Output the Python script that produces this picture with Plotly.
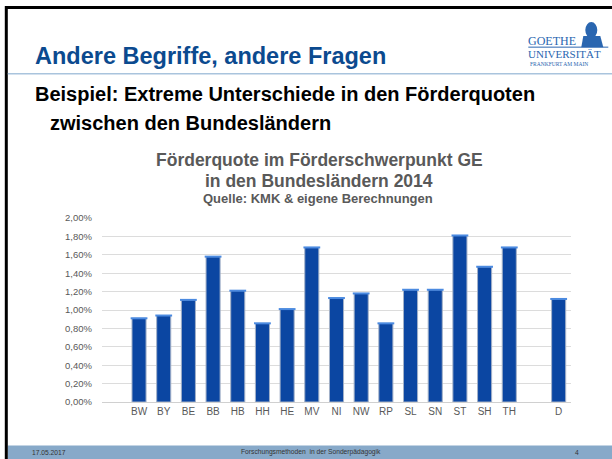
import plotly.graph_objects as go

# ---- data ----
states = ["BW", "BY", "BE", "BB", "HB", "HH", "HE", "MV", "NI", "NW",
          "RP", "SL", "SN", "ST", "SH", "TH", " ", "D"]
quota = [0.0091, 0.0094, 0.0111, 0.0158, 0.0121, 0.00855, 0.0101, 0.0168,
         0.0113, 0.0118, 0.00855, 0.0122, 0.0122, 0.0181, 0.0147, 0.0168,
         None, 0.0112]
y_ticks = [0.0, 0.002, 0.004, 0.006, 0.008, 0.010, 0.012, 0.014, 0.016, 0.018, 0.020]

slide_title = "Andere Begriffe, andere Fragen"
headline1 = "Beispiel: Extreme Unterschiede in den Förderquoten"
headline2 = "zwischen den Bundesländern"
chart_title1 = "Förderquote im Förderschwerpunkt GE"
chart_title2 = "in den Bundesländern 2014"
chart_source = "Quelle: KMK & eigene Berechnungen"
footer_date = "17.05.2017"
footer_text = "Forschungsmethoden  in der Sonderpädagogik"
footer_page = "4"

W, H = 612, 459
L, T = 101.7, 218.3
PW, PH = 469.0, 183.4
R = W - L - PW
B = H - T - PH

def X(px):
    return (px - L) / PW

def Y(py):
    return 1 - (py - T) / PH

FONT = "Liberation Sans, Arial, sans-serif"
SERIF = "Liberation Serif, Times New Roman, serif"
GRAY = "#595959"
BLUE_T = "#0b4a8f"
LOGO = "#2a66b0"

fig = go.Figure()
fig.add_trace(go.Bar(
    x=states, y=quota,
    marker=dict(color="#0b46a2", line=dict(color="#a3b1c8", width=1)),
    hoverinfo="x+y",
))
# light top cap of each bar
fig.add_trace(go.Scatter(
    x=states, y=quota, mode="markers",
    marker=dict(symbol="line-ew", size=12, line=dict(color="#4b8ae0", width=2)),
    hoverinfo="skip",
))

shapes = []
# black slide border (top and left)
shapes.append(dict(type="line", xref="paper", yref="paper",
                   x0=X(5), x1=X(W + 5), y0=Y(8.5), y1=Y(8.5),
                   line=dict(color="black", width=3)))
shapes.append(dict(type="line", xref="paper", yref="paper",
                   x0=X(6), x1=X(6), y0=Y(7), y1=Y(H + 5),
                   line=dict(color="black", width=3)))
# title underline
shapes.append(dict(type="line", xref="paper", yref="paper",
                   x0=X(7.5), x1=X(W + 5), y0=Y(74.5), y1=Y(74.5),
                   line=dict(color="#a9c4dd", width=1.5)))
# footer band
shapes.append(dict(type="rect", xref="paper", yref="paper",
                   x0=X(7.5), x1=X(W + 5), y0=Y(445), y1=Y(H + 5),
                   fillcolor="#87a9c9", line=dict(width=0), layer="below"))
# logo portrait (simplified)
shapes.append(dict(type="circle", xref="paper", yref="paper",
                   x0=X(585), x1=X(597), y0=Y(23), y1=Y(39),
                   fillcolor=LOGO, line=dict(width=0)))
shapes.append(dict(type="path", xref="paper", yref="paper",
                   path="M %f,%f L %f,%f L %f,%f L %f,%f Z" % (
                       X(581), Y(48), X(583), Y(37), X(600), Y(37), X(603), Y(48)),
                   fillcolor=LOGO, line=dict(width=0)))
shapes.append(dict(type="line", xref="paper", yref="paper",
                   x0=X(528), x1=X(608), y0=Y(48), y1=Y(48),
                   line=dict(color=LOGO, width=1)))

ann = []
def txt(s, px, py, size, color, bold=False, xanchor="left", family=FONT):
    ann.append(dict(text=("<b>%s</b>" % s) if bold else s, x=X(px), y=Y(py),
                    xref="paper", yref="paper", xanchor=xanchor, yanchor="middle",
                    showarrow=False, font=dict(family=family, size=size, color=color)))

txt(slide_title, 33, 57, 23.5, BLUE_T, bold=True)
txt(headline1, 33, 95, 20, "black", bold=True)
txt(headline2, 48, 124, 20, "black", bold=True)
txt(chart_title1, 319, 160, 17.5, GRAY, bold=True, xanchor="center")
txt(chart_title2, 319, 181.5, 17.5, GRAY, bold=True, xanchor="center")
txt(chart_source, 318, 198.5, 13, GRAY, bold=True, xanchor="center")
txt(footer_date, 30, 452, 6.7, "#333333")
txt(footer_text, 311, 452, 6.7, "#333333", xanchor="center")
txt(footer_page, 577, 452, 6.7, "#333333", xanchor="center")
txt("GOETHE", 526, 41.5, 12, LOGO, family=SERIF)
txt("UNIVERSITÄT", 526, 54.5, 11, LOGO, family=SERIF)
txt("FRANKFURT AM MAIN", 528, 64.5, 5.5, LOGO, family=SERIF)

fig.update_layout(
    width=W, height=H,
    margin=dict(l=L, r=R, t=T, b=B, pad=0),
    paper_bgcolor="white", plot_bgcolor="white",
    separators=",.",
    showlegend=False,
    bargap=0.43,
    font=dict(family=FONT, color=GRAY, size=10),
    shapes=shapes,
    annotations=ann,
    xaxis=dict(type="category", categoryorder="array", categoryarray=states,
               range=[-1.5, len(states) - 0.5], showgrid=False,
               showline=True, linecolor="#d0d0d0", linewidth=1,
               ticks="", tickfont=dict(size=10, color=GRAY), fixedrange=True),
    yaxis=dict(range=[0, 0.02], tickvals=y_ticks, tickformat=".2%",
               showgrid=True, gridcolor="#dcdcdc", gridwidth=1,
               zeroline=False, showline=False, ticks="",
               tickfont=dict(size=9.5, color=GRAY), ticklabelstandoff=9,
               fixedrange=True),
)

fig.write_html("out.html",
               config={"displayModeBar": False},
               post_script="document.body.style.margin='0';document.body.style.overflow='hidden';")
